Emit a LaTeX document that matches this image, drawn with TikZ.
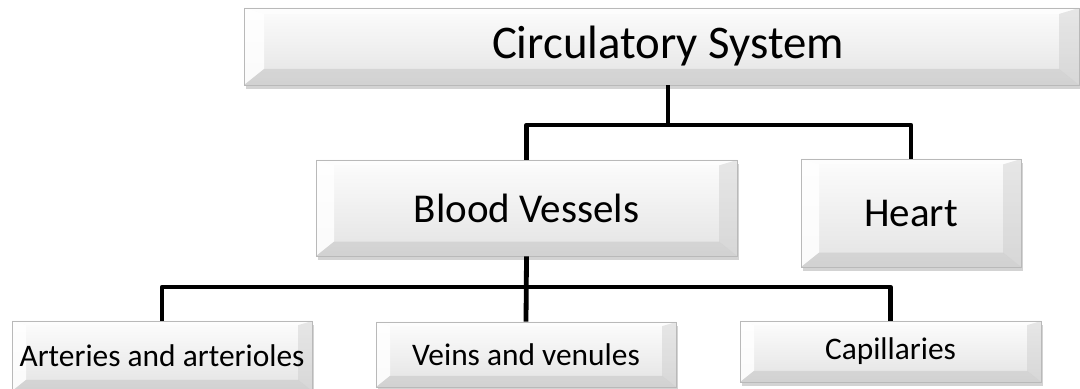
\documentclass[tikz,border=0pt]{standalone}
\usepackage{fontspec}
\setmainfont{Carlito}
\usetikzlibrary{positioning,calc,shadows}

\begin{document}
\begin{tikzpicture}[
        x=0.5pt, y=-0.5pt,
        bevelbox/.style={draw=gray!55, line width=0.4pt, align=center, inner sep=0pt,
            top color=gray!2, bottom color=gray!22,
            drop shadow={shadow xshift=0.8pt, shadow yshift=-1.8pt, opacity=0.35, fill=gray},
            path picture={
                \fill[white, opacity=0.55] (path picture bounding box.north west) -- (path picture bounding box.north east)
                    -- ([shift={(-#1,-#1*0.3)}]path picture bounding box.north east) -- ([shift={(#1,-#1*0.3)}]path picture bounding box.north west) -- cycle;
                \fill[white, opacity=0.85] (path picture bounding box.north west) -- ([shift={(#1,-#1*0.3)}]path picture bounding box.north west)
                    -- ([shift={(#1,#1*0.8)}]path picture bounding box.south west) -- (path picture bounding box.south west) -- cycle;
                \fill[gray!45, opacity=0.4] (path picture bounding box.north east) -- ([shift={(-#1,-#1*0.3)}]path picture bounding box.north east)
                    -- ([shift={(-#1,#1*0.8)}]path picture bounding box.south east) -- (path picture bounding box.south east) -- cycle;
                \fill[gray!55, opacity=0.4] (path picture bounding box.south west) -- ([shift={(#1,#1*0.8)}]path picture bounding box.south west)
                    -- ([shift={(-#1,#1*0.8)}]path picture bounding box.south east) -- (path picture bounding box.south east) -- cycle;
            }},
        conn/.style={draw=black, line width=2.4pt, line join=round}
    ]
        \useasboundingbox (0,0) rectangle (1080,389);

        % top level
        \node[bevelbox=10pt, minimum width=417.5pt, minimum height=38.5pt, font=\fontsize{23.4}{27}\selectfont] (circ) at (661.5,46.5) {\hspace*{6.5pt}Circulatory System};

        % middle level
        \node[bevelbox=9pt, minimum width=210.5pt, minimum height=48pt, font=\fontsize{20.5}{24}\selectfont] (vessels) at (526.5,208) {Blood Vessels};
        \node[bevelbox=9pt, minimum width=110pt, minimum height=54pt, font=\fontsize{20.5}{24}\selectfont] (heart) at (911,213) {Heart};

        % bottom level
        \node[bevelbox=7pt, minimum width=150pt, minimum height=35pt, font=\fontsize{15.7}{19}\selectfont] (arter) at (162,356) {Arteries and arterioles};
        \node[bevelbox=7pt, minimum width=150pt, minimum height=32.5pt, font=\fontsize{15.7}{19}\selectfont] (veins) at (526,354.5) {Veins and venules};
        \node[bevelbox=7pt, minimum width=150.5pt, minimum height=30.5pt, font=\fontsize{15.7}{19}\selectfont] (capil) at (890.5,351.5) {Capillaries};

        % connectors
        \coordinate (bar1) at (668,125);
        \coordinate (bar2) at (527,287);
        \draw[conn] (circ.south -| bar1) -- (bar1);
        \draw[conn] (vessels.north) |- (bar1) -| (heart.north);
        \draw[conn] (vessels.south) -- (veins.north);
        \draw[conn] (arter.north) |- (bar2) -| (capil.north);
    \end{tikzpicture}
\end{document}
